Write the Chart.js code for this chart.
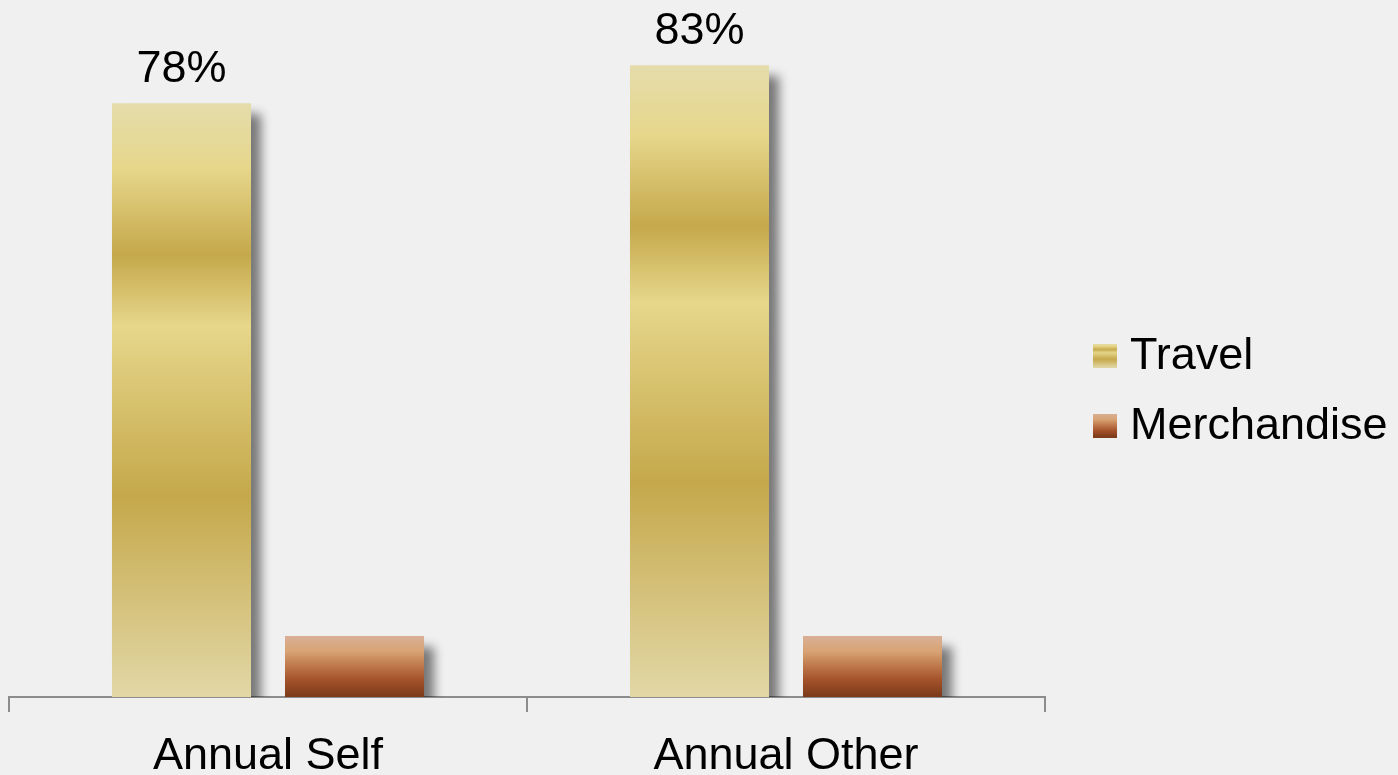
<!DOCTYPE html>
<html>
<head>
<meta charset="utf-8">
<script src="https://cdn.jsdelivr.net/npm/chart.js@4/dist/chart.umd.min.js"></script>
<style>
  html, body { margin: 0; padding: 0; background: #f0f0f0; }
  #wrap { width: 1398px; height: 775px; }
</style>
</head>
<body>
<div id="wrap"><canvas id="c" width="1398" height="775"></canvas></div>
<script>
// Categories and series values (percent)
const categories = ['Annual Self', 'Annual Other'];
const travelValues = [78, 83];
const merchandiseValues = [8, 8];
const seriesNames = ['Travel', 'Merchandise'];
const valueLabels = ['78%', '83%'];

const FONT = '"Liberation Sans", Arial, sans-serif';
const FONT_SIZE = 45;

// Colour stops for each series' vertical gradient (0 = top of bar, 1 = baseline)
const travelStops = [
  [0, '#e5dcab'], [0.11, '#e6d78b'], [0.255, '#c5a84b'],
  [0.375, '#e6d78b'], [0.66, '#c5a84b'], [1, '#e2d8a6']
];
const merchStops = [
  [0, '#d9b096'], [0.25, '#d8a374'], [0.45, '#c27f50'],
  [0.72, '#a4522a'], [1, '#7a3a19']
];

function gradientFor(ctx, y0, y1, stops) {
  const g = ctx.createLinearGradient(0, y0, 0, y1);
  stops.forEach(([o, c]) => g.addColorStop(o, c));
  return g;
}

// Per-bar gradient using the bar's own pixel extent from the y scale
function barFill(stops, fallback) {
  return (context) => {
    const chart = context.chart;
    const y = chart.scales.y;
    if (!chart.chartArea || !y || context.parsed == null) return fallback;
    const top = y.getPixelForValue(context.parsed.y);
    const base = y.getPixelForValue(0);
    if (!isFinite(top) || !isFinite(base) || top === base) return fallback;
    return gradientFor(chart.ctx, top, base, stops);
  };
}

// Small swatches used in the legend
function swatch(stops) {
  const s = 24;
  const cv = document.createElement('canvas');
  cv.width = s; cv.height = s;
  const c = cv.getContext('2d');
  c.fillStyle = gradientFor(c, 0, s, stops);
  c.fillRect(0, 0, s, s);
  return cv;
}
const swatches = [swatch(travelStops), swatch(merchStops)];

const backgroundPlugin = {
  id: 'paperBackground',
  beforeDraw(chart) {
    const { ctx, width, height } = chart;
    ctx.save();
    ctx.fillStyle = '#f0f0f0';
    ctx.fillRect(0, 0, width, height);
    ctx.restore();
  }
};

const shadowPlugin = {
  id: 'barShadow',
  beforeDatasetsDraw(chart) {
    const ctx = chart.ctx;
    ctx.save();
    ctx.shadowColor = 'rgba(0,0,0,0.5)';
    ctx.shadowOffsetX = 10;
    ctx.shadowOffsetY = 11;
    ctx.shadowBlur = 10;
  },
  afterDatasetsDraw(chart) {
    chart.ctx.restore();
  }
};

const valueLabelPlugin = {
  id: 'valueLabels',
  afterDatasetsDraw(chart) {
    const ctx = chart.ctx;
    const meta = chart.getDatasetMeta(0);
    ctx.save();
    ctx.font = FONT_SIZE + 'px ' + FONT;
    ctx.fillStyle = '#000';
    ctx.textAlign = 'center';
    ctx.textBaseline = 'alphabetic';
    meta.data.forEach((bar, i) => {
      ctx.fillText(valueLabels[i], bar.x, bar.y - 21);
    });
    ctx.restore();
  }
};

const legendPlugin = {
  id: 'sideLegend',
  afterDraw(chart) {
    const ctx = chart.ctx;
    const area = chart.chartArea;
    const boxX = area.right + 48;
    const textX = boxX + 37;
    const spacing = 70;
    const n = chart.data.datasets.length;
    const centerY = chart.height / 2 + 3;
    ctx.save();
    ctx.font = FONT_SIZE + 'px ' + FONT;
    ctx.fillStyle = '#000';
    ctx.textAlign = 'left';
    ctx.textBaseline = 'middle';
    chart.data.datasets.forEach((ds, i) => {
      const cy = centerY + (i - (n - 1) / 2) * spacing;
      ctx.drawImage(swatches[i], boxX, cy - 12);
      ctx.fillText(ds.label, textX, cy + 1);
    });
    ctx.restore();
  }
};

new Chart(document.getElementById('c'), {
  type: 'bar',
  data: {
    labels: categories,
    datasets: [
      {
        label: seriesNames[0],
        data: travelValues,
        backgroundColor: barFill(travelStops, '#d8c26a'),
        borderWidth: 0
      },
      {
        label: seriesNames[1],
        data: merchandiseValues,
        backgroundColor: barFill(merchStops, '#b96a3c'),
        borderWidth: 0
      }
    ]
  },
  options: {
    responsive: false,
    animation: false,
    devicePixelRatio: 1,
    layout: { padding: { left: 9, right: 353, top: 12, bottom: 0 } },
    datasets: {
      bar: { categoryPercentage: 0.668, barPercentage: 0.8035 }
    },
    plugins: {
      legend: { display: false },
      tooltip: { enabled: false },
      title: { display: false }
    },
    scales: {
      x: {
        offset: true,
        afterFit(scale) { scale.height = 78; },
        grid: {
          display: true,
          offset: true,
          drawOnChartArea: false,
          drawTicks: true,
          tickLength: 15,
          color: '#8c8c8c',
          lineWidth: 2
        },
        border: { display: true, color: '#8c8c8c', width: 2 },
        ticks: {
          color: '#000',
          padding: 18,
          font: { family: FONT, size: FONT_SIZE }
        }
      },
      y: {
        display: false,
        min: 0,
        max: 90
      }
    }
  },
  plugins: [backgroundPlugin, shadowPlugin, valueLabelPlugin, legendPlugin]
});
</script>
</body>
</html>
